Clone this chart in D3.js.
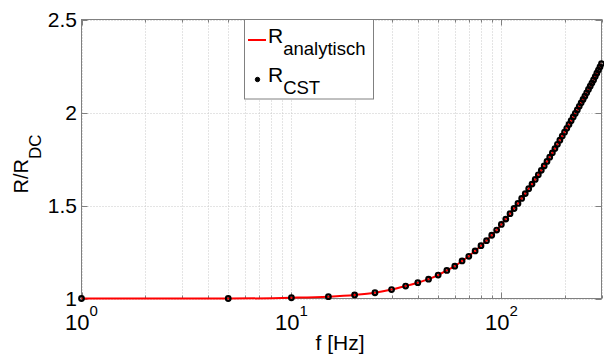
<!DOCTYPE html>
<html>
<head>
<meta charset="utf-8">
<script src="https://cdn.jsdelivr.net/npm/d3@7/dist/d3.min.js"></script>
<style>
    html, body { margin: 0; padding: 0; background: #fff; }
    svg { display: block; font-family: "Liberation Sans", Arial, sans-serif; }
</style>
</head>
<body>
<div id="chart"></div>
<script>
const W = 604, H = 358;

// frequencies (Hz) of the CST samples
const freqHz = [1, 5, 10, 15, 20, 25, 30, 35, 40, 45, 50, 55, 60, 65, 70, 75, 80, 85, 90, 95,
    100, 105, 110, 115, 120, 125, 130, 135, 140, 145, 150, 155, 160, 165, 170, 175, 180, 185, 190, 195,
    200, 205, 210, 215, 220, 225, 230, 235, 240, 245, 250, 255, 260, 265, 270, 275, 280, 285, 290, 295, 300];

// R/R_DC
const rCST = [1.000, 1.000, 1.004, 1.010, 1.019, 1.031, 1.048, 1.067, 1.085, 1.104,
    1.126, 1.151, 1.174, 1.202, 1.227, 1.256, 1.284, 1.311, 1.340, 1.368,
    1.398, 1.427, 1.456, 1.484, 1.511, 1.538, 1.564, 1.590, 1.615, 1.640,
    1.665, 1.689, 1.713, 1.737, 1.760, 1.783, 1.806, 1.829, 1.851, 1.873,
    1.894, 1.915, 1.936, 1.956, 1.976, 1.995, 2.014, 2.033, 2.052, 2.070,
    2.088, 2.106, 2.124, 2.141, 2.158, 2.175, 2.193, 2.211, 2.228, 2.245, 2.262];

const rAnalytisch = [1.000, 1.000, 1.004, 1.010, 1.019, 1.031, 1.048, 1.067, 1.085, 1.104,
    1.126, 1.151, 1.174, 1.202, 1.227, 1.256, 1.284, 1.311, 1.340, 1.368,
    1.398, 1.427, 1.456, 1.484, 1.511, 1.538, 1.564, 1.590, 1.615, 1.640,
    1.665, 1.689, 1.713, 1.737, 1.760, 1.783, 1.806, 1.829, 1.851, 1.873,
    1.894, 1.915, 1.936, 1.956, 1.976, 1.995, 2.014, 2.033, 2.052, 2.070,
    2.088, 2.106, 2.124, 2.141, 2.158, 2.175, 2.193, 2.211, 2.228, 2.245, 2.262];

const xMajor = [1, 10, 100];
const xMajorExp = ['0', '1', '2'];
const xMinor = [2, 3, 4, 5, 6, 7, 8, 9, 20, 30, 40, 50, 60, 70, 80, 90, 200, 300];
const yTicks = [1, 1.5, 2, 2.5];
const yTickLabels = ['1', '1.5', '2', '2.5'];

const m = { left: 81.5, top: 19.5, right: 2.5, bottom: 59.5 };
const x = d3.scaleLog().domain([1, 300]).range([m.left, W - m.right]);
const y = d3.scaleLinear().domain([1, 2.5]).range([H - m.bottom, m.top]);
const x0 = m.left, x1 = W - m.right, y0 = H - m.bottom, y1 = m.top;

const svg = d3.select('#chart').append('svg')
    .attr('width', W).attr('height', H)
    .attr('viewBox', `0 0 ${W} ${H}`);

svg.append('rect').attr('width', W).attr('height', H).attr('fill', '#fff');

// grid
const grid = svg.append('g')
    .attr('stroke', '#c8c8c8').attr('stroke-width', 1).attr('stroke-dasharray', '1,2');
xMajor.concat(xMinor).forEach(v => {
    const px = Math.round(x(v)) + 0.5;
    grid.append('line').attr('x1', px).attr('x2', px).attr('y1', y1).attr('y2', y0);
});
yTicks.forEach(v => {
    const py = Math.round(y(v)) + 0.5;
    grid.append('line').attr('x1', x0).attr('x2', x1).attr('y1', py).attr('y2', py);
});

// axes box + inside ticks
const ax = svg.append('g').attr('stroke', '#808080').attr('stroke-width', 1).attr('fill', 'none');
ax.append('rect').attr('x', x0).attr('y', y1).attr('width', x1 - x0).attr('height', y0 - y1);
xMajor.concat(xMinor).forEach(v => {
    const px = Math.round(x(v)) + 0.5;
    const len = xMajor.includes(v) ? 6 : 3;
    ax.append('line').attr('x1', px).attr('x2', px).attr('y1', y0).attr('y2', y0 - len);
    ax.append('line').attr('x1', px).attr('x2', px).attr('y1', y1).attr('y2', y1 + len);
});
yTicks.forEach(v => {
    const py = Math.round(y(v)) + 0.5;
    ax.append('line').attr('x1', x0).attr('x2', x0 + 6).attr('y1', py).attr('y2', py);
    ax.append('line').attr('x1', x1).attr('x2', x1 - 6).attr('y1', py).attr('y2', py);
});

// y tick labels
yTicks.forEach((v, i) => {
    svg.append('text')
        .attr('x', 77).attr('y', y(v) + 7.5)
        .attr('text-anchor', 'end')
        .attr('font-size', '21px').attr('fill', '#000')
        .text(yTickLabels[i]);
});

// x tick labels 10^n
xMajor.forEach((v, i) => {
    const t = svg.append('text')
        .attr('x', x(v)).attr('y', 330)
        .attr('text-anchor', 'middle')
        .attr('font-size', '22px').attr('fill', '#000');
    t.append('tspan').text('10');
    t.append('tspan').attr('dy', -14).attr('font-size', '15px').text(xMajorExp[i]);
});

// axis labels
svg.append('text')
    .attr('x', 340).attr('y', 350)
    .attr('text-anchor', 'middle')
    .attr('font-size', '21px').attr('fill', '#000')
    .text('f [Hz]');

const yl = svg.append('text')
    .attr('transform', 'translate(27.5,164) rotate(-90)')
    .attr('text-anchor', 'middle')
    .attr('font-size', '20px').attr('fill', '#000');
yl.append('tspan').text('R/R');
yl.append('tspan').attr('dy', 13).attr('font-size', '17px').text('DC');

// analytic curve
const pts = freqHz.map((f, i) => [f, rAnalytisch[i]]);
const line = d3.line()
    .x(d => x(d[0])).y(d => y(d[1]))
    .curve(d3.curveMonotoneX);
svg.append('path')
    .datum(pts)
    .attr('d', line)
    .attr('fill', 'none')
    .attr('stroke', '#ff0000')
    .attr('stroke-width', 2);

// CST markers
svg.append('g')
    .selectAll('circle')
    .data(freqHz.map((f, i) => [f, rCST[i]]))
    .join('circle')
    .attr('cx', d => x(d[0])).attr('cy', d => y(d[1]))
    .attr('r', 2.3)
    .attr('fill', 'none')
    .attr('stroke', '#000')
    .attr('stroke-width', 2.2);

// legend
const lg = svg.append('g');
lg.append('rect')
    .attr('x', 244.5).attr('y', 19.5).attr('width', 129).attr('height', 79.5)
    .attr('fill', '#fff').attr('stroke', '#808080').attr('stroke-width', 1);
lg.append('line')
    .attr('x1', 248).attr('x2', 266).attr('y1', 40).attr('y2', 40)
    .attr('stroke', '#ff0000').attr('stroke-width', 2);
lg.append('circle')
    .attr('cx', 257.5).attr('cy', 79.5).attr('r', 2.2)
    .attr('fill', '#000').attr('stroke', '#000').attr('stroke-width', 1);

[['analytisch', 43], ['CST', 82]].forEach(([sub, base]) => {
    const t = lg.append('text')
        .attr('x', 268).attr('y', base)
        .attr('font-size', '21px').attr('fill', '#000');
    t.append('tspan').text('R');
    t.append('tspan').attr('dy', 11.5).attr('font-size', '18.5px').text(sub);
});
</script>
</body>
</html>
